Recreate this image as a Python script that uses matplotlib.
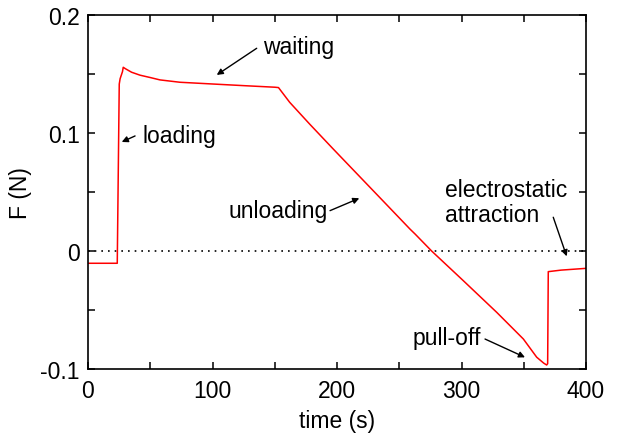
import numpy as np
import matplotlib
matplotlib.use("Agg")
import matplotlib.pyplot as plt
from matplotlib.ticker import MultipleLocator, FixedLocator

# Force trace of one load / wait / unload / pull-off cycle
time_s = [0, 23.5, 25.1, 25.8, 27.7, 28.3, 30, 35, 41.8, 50, 57.8, 73.9,
          100.5, 127.5, 150, 153, 162, 178, 197, 220, 240, 258.6, 262.7,
          276, 301.5, 328.3, 349.7, 360.4, 366, 368.4, 369.2, 369.7, 380, 400]
force_N = [-0.0104, -0.0104, 0.1415, 0.146, 0.152, 0.1557, 0.1545, 0.1515,
           0.149, 0.147, 0.145, 0.143, 0.1415, 0.140, 0.1388, 0.1385, 0.126,
           0.1076, 0.0864, 0.0611, 0.0391, 0.0186, 0.0144, 0.0, -0.0252,
           -0.052, -0.0746, -0.090, -0.0950, -0.0966, -0.0955, -0.0175,
           -0.0162, -0.0147]

x_ticks = [0, 100, 200, 300, 400]
y_ticks = [-0.1, 0, 0.1, 0.2]
y_tick_labels = ["-0.1", "0", "0.1", "0.2"]

plt.rcParams['font.family'] = ['Liberation Sans', 'DejaVu Sans']
FS = 16.5

fig = plt.figure(figsize=(6.21, 4.35), dpi=100)
ax = fig.add_axes([88 / 621, 1 - 370 / 435, (586 - 88) / 621, (370 - 16) / 435])

ax.axhline(0, color='black', lw=1.2, linestyle=(0, (1, 3)), zorder=1)
ax.plot(time_s, force_N, color='red', lw=1.1, zorder=2)

ax.set_xlim(0, 400)
ax.set_ylim(-0.1, 0.2)
ax.xaxis.set_major_locator(FixedLocator(x_ticks))
ax.xaxis.set_minor_locator(MultipleLocator(50))
ax.yaxis.set_major_locator(FixedLocator(y_ticks))
ax.set_yticklabels(y_tick_labels)
ax.yaxis.set_minor_locator(MultipleLocator(0.05))
ax.tick_params(which='both', direction='in', top=True, right=True,
               length=5, width=1.1, labelsize=FS)
ax.tick_params(axis='x', pad=7)
ax.tick_params(axis='y', pad=6)
for s in ax.spines.values():
    s.set_linewidth(1.2)

ax.set_xlabel("time (s)", fontsize=FS, labelpad=5)
ax.set_ylabel("F (N)", fontsize=FS, labelpad=6)

# annotations: (label, text position, text alignment, arrow tail, arrow tip)
arrow = dict(arrowstyle='-|>', color='black', lw=1.0, mutation_scale=9,
             shrinkA=0, shrinkB=0)
notes = [
    ("waiting", (140.6, 0.1729), 'left', (135.5, 0.1718), (103.4, 0.1492)),
    ("loading", (43.9, 0.0977), 'left', (37.8, 0.0975), (27.1, 0.0924)),
    ("unloading", (192.8, 0.0342), 'right', (194.4, 0.0342), (217.9, 0.0447)),
    ("electrostatic\nattraction", (286.7, 0.0415), 'left', (373.7, 0.0286), (384.5, -0.0045)),
    ("pull-off", (260.8, -0.0731), 'left', (318.9, -0.0746), (351.0, -0.0901)),
]
for label, pos, ha, tail, tip in notes:
    ax.text(pos[0], pos[1], label, ha=ha, va='center', fontsize=FS, linespacing=1.15)
    ax.annotate('', xy=tip, xytext=tail, arrowprops=arrow)

fig.savefig("out.png", dpi=100)
